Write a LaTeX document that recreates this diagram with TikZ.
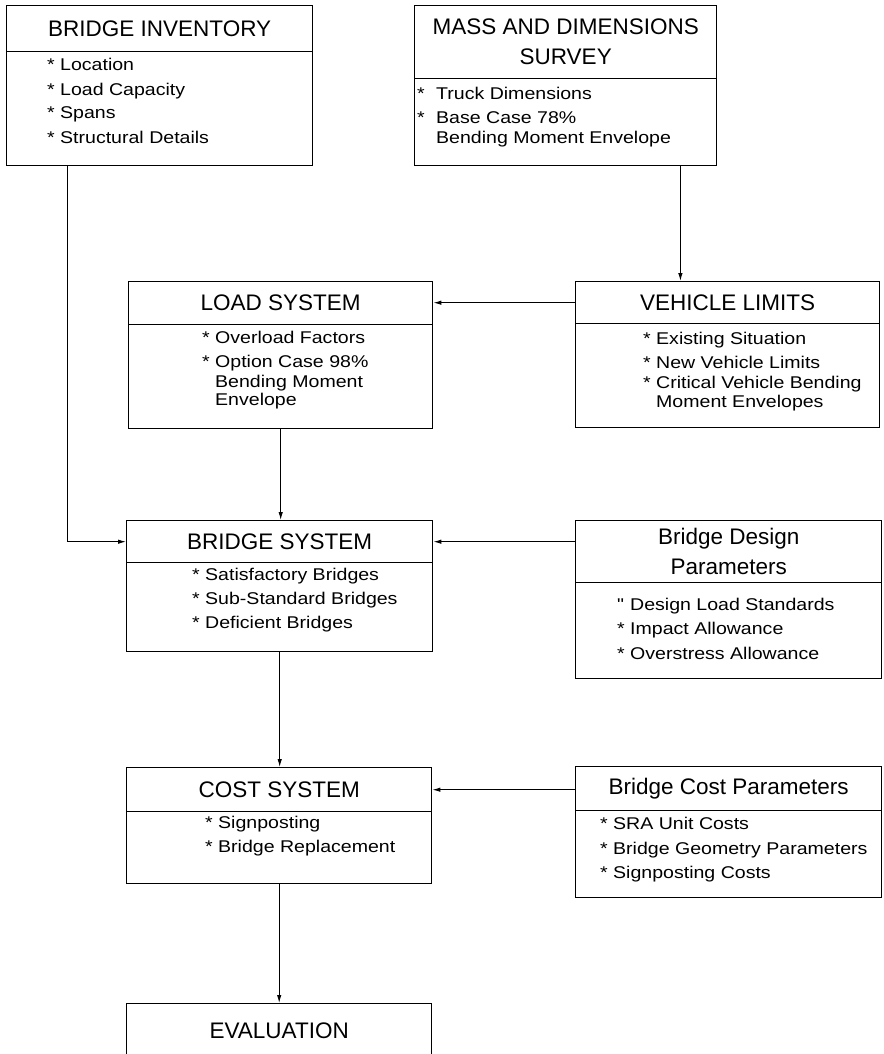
\documentclass[tikz,border=0pt]{standalone}
\usepackage{fontspec}
\setmainfont{Liberation Sans}
\newfontfamily\itemfont{Liberation Sans}[FakeStretch=1.15]
\usetikzlibrary{arrows.meta}
\newcommand{\myitem}[2][13pt]{\makebox[#1][l]{*}#2}
\begin{document}
\begin{tikzpicture}[x=1pt,y=-1pt,
  hd/.style={draw, line width=1.4pt, inner sep=0pt, anchor=north west,
    font=\fontsize{22.5}{30}\selectfont, align=center},
  bd/.style={draw, line width=1.4pt, inner sep=0pt, anchor=north west},
  it/.style={anchor=base west, inner sep=0pt, font=\itemfont\fontsize{17}{20}\selectfont},
  arr/.style={line width=1pt, -{Latex[length=8pt,width=4.5pt]}}]
\clip (0,0) rectangle (883,1054);
\fill[white] (0,0) rectangle (883,1054);

% BRIDGE INVENTORY
\node[hd, minimum width=306pt, minimum height=46pt] (bih) at (6,5) {BRIDGE INVENTORY};
\node[bd, minimum width=306pt, minimum height=114pt] (bib) at (6,51) {};
\node[it] (bi1) at (47,71) {\myitem{Location}};
\node[it] (bi2) at (47,96) {\myitem{Load Capacity}};
\node[it] (bi3) at (47,119) {\myitem{Spans}};
\node[it] (bi4) at (47,143) {\myitem{Structural Details}};

% MASS AND DIMENSIONS SURVEY
\node[hd, minimum width=302pt, minimum height=73pt] (mah) at (414,5) {MASS AND DIMENSIONS\\SURVEY};
\node[bd, minimum width=302pt, minimum height=87pt] (mab) at (414,78) {};
\node[it] (ma1) at (417,100) {\myitem[19pt]{Truck Dimensions}};
\node[it] (ma2) at (417,124) {\myitem[19pt]{Base Case 78\%}};
\node[it] (ma3) at (436,143) {Bending Moment Envelope};

% LOAD SYSTEM
\node[hd, minimum width=304pt, minimum height=43pt] (loh) at (128,281) {LOAD SYSTEM};
\node[bd, minimum width=304pt, minimum height=104pt] (lob) at (128,324) {};
\node[it] (lo1) at (202,343) {\myitem{Overload Factors}};
\node[it] (lo2) at (202,367) {\myitem{Option Case 98\%}};
\node[it] (lo3) at (215,387) {Bending Moment};
\node[it] (lo4) at (215,405) {Envelope};

% VEHICLE LIMITS
\node[hd, minimum width=304pt, minimum height=42pt] (veh) at (575,281) {VEHICLE LIMITS};
\node[bd, minimum width=304pt, minimum height=104pt] (veb) at (575,323) {};
\node[it] (ve1) at (643,344) {\myitem{Existing Situation}};
\node[it] (ve2) at (643,368) {\myitem{New Vehicle Limits}};
\node[it] (ve3) at (643,388) {\myitem{Critical Vehicle Bending}};
\node[it] (ve4) at (656,407) {Moment Envelopes};

% BRIDGE SYSTEM
\node[hd, minimum width=306pt, minimum height=42pt] (bsh) at (126,520) {BRIDGE SYSTEM};
\node[bd, minimum width=306pt, minimum height=89pt] (bsb) at (126,562) {};
\node[it] (bs1) at (192,580) {\myitem{Satisfactory Bridges}};
\node[it] (bs2) at (192,604) {\myitem{Sub-Standard Bridges}};
\node[it] (bs3) at (192,628) {\myitem{Deficient Bridges}};

% Bridge Design Parameters
\node[hd, minimum width=306pt, minimum height=62pt] (bdh) at (575,520) {Bridge Design\\Parameters};
\node[bd, minimum width=306pt, minimum height=96pt] (bdb) at (575,582) {};
\node[it] (bd1) at (617,610) {\makebox[13pt][l]{"}Design Load Standards};
\node[it] (bd2) at (617,634) {\myitem{Impact Allowance}};
\node[it] (bd3) at (617,659) {\myitem{Overstress Allowance}};

% COST SYSTEM
\node[hd, minimum width=305pt, minimum height=44pt] (coh) at (126,767) {COST SYSTEM};
\node[bd, minimum width=305pt, minimum height=72pt] (cob) at (126,811) {};
\node[it] (co1) at (205,828) {\myitem{Signposting}};
\node[it] (co2) at (205,852) {\myitem{Bridge Replacement}};

% Bridge Cost Parameters
\node[hd, minimum width=306pt, minimum height=44pt] (bch) at (575,766) {Bridge Cost Parameters};
\node[bd, minimum width=306pt, minimum height=87pt] (bcb) at (575,810) {};
\node[it] (bc1) at (600,829) {\myitem{SRA Unit Costs}};
\node[it] (bc2) at (600,854) {\myitem{Bridge Geometry Parameters}};
\node[it] (bc3) at (600,878) {\myitem{Signposting Costs}};

% EVALUATION
\node[hd, minimum width=305pt, minimum height=54pt] (evh) at (126,1003) {EVALUATION};

% connectors
\coordinate (bi0) at ([xshift=61.5pt]bib.south west);
\draw[arr] (bi0) |- (bsh.west);
\coordinate (ma0) at ([xshift=-37pt]mab.south east);
\draw[arr] (ma0) -- (ma0 |- veh.north);
\draw[arr] (veh.west) -- (veh.west -| loh.east);
\draw[arr] (lob.south) -- (lob.south |- bsh.north);
\draw[arr] (bdh.west |- bsh.east) -- (bsh.east);
\draw[arr] (bsb.south) -- (bsb.south |- coh.north);
\draw[arr] (bch.west |- coh.east) -- (coh.east);
\draw[arr] (cob.south) -- (cob.south |- evh.north);
\end{tikzpicture}
\end{document}
